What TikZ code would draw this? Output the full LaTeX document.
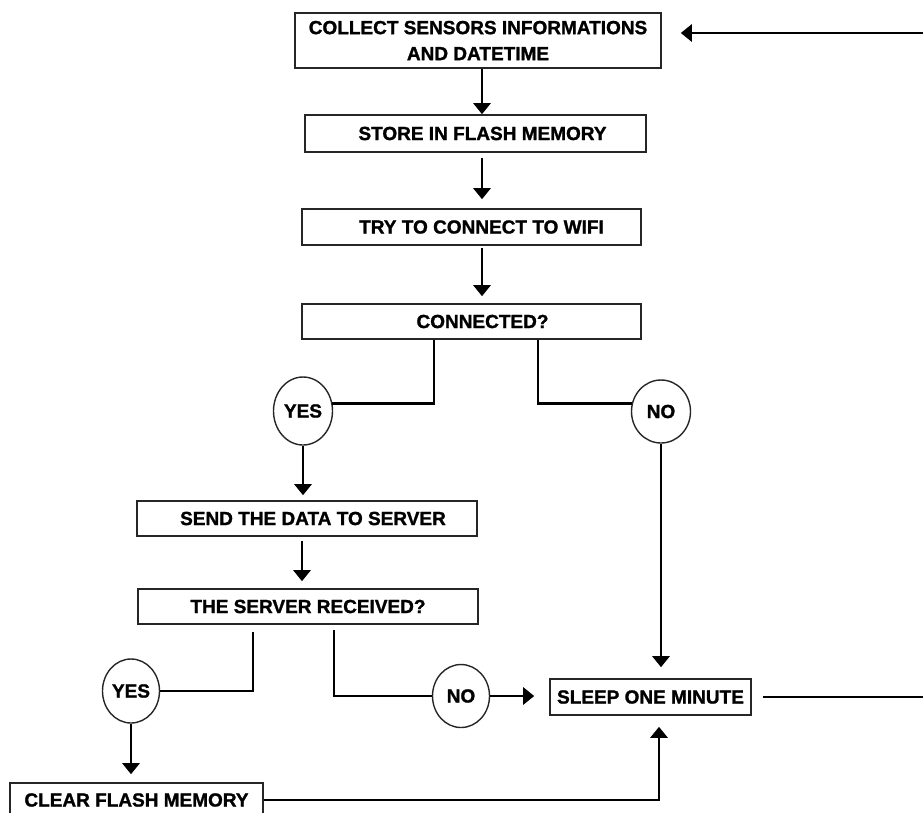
\documentclass[tikz,border=0pt]{standalone}
\usepackage{fontspec}
\setmainfont{Liberation Sans}[BoldFeatures={FakeBold=1.3}]
\usetikzlibrary{arrows.meta,shapes.geometric,calc}
\begin{document}
\begin{tikzpicture}[x=1pt,y=-1pt,
  box/.style={draw=black!85,line width=1.6pt,rectangle,inner sep=0pt,
    font=\fontsize{19}{26}\selectfont\bfseries,text=black,align=center},
  oval/.style={draw=black!85,line width=1.4pt,ellipse,inner sep=0pt,
    font=\fontsize{19}{22}\selectfont\bfseries,text=black},
  conn/.style={line width=2.8pt,draw=black},
  arr/.style={conn,-{Triangle[width=17pt,length=11pt]}},
]
\useasboundingbox (0,0) rectangle (923,812);
% boxes
\node[box,minimum width=366pt,minimum height=55pt] (collect) at (478,40.5)
  {COLLECT SENSORS INFORMATIONS\\AND DATETIME};
\node[box,minimum width=341pt,minimum height=37pt] (store) at (475.5,133.5)
  {\hspace*{14pt}STORE IN FLASH MEMORY};
\node[box,minimum width=339pt,minimum height=36pt] (wifi) at (471.5,227)
  {\hspace*{20pt}TRY TO CONNECT TO WIFI};
\node[box,minimum width=339pt,minimum height=35pt] (conn) at (471.5,321.5)
  {\hspace*{22pt}CONNECTED?};
\node[box,minimum width=340pt,minimum height=35pt] (send) at (307,518.5)
  {\hspace*{12pt}SEND THE DATA TO SERVER};
\node[box,minimum width=340pt,minimum height=35pt] (server) at (308,606.5)
  {THE SERVER RECEIVED?};
\node[box,minimum width=201pt,minimum height=36pt] (sleep) at (650.5,697)
  {SLEEP ONE MINUTE};
\node[box,minimum width=253pt,minimum height=34pt] (clear) at (136.5,800)
  {CLEAR FLASH MEMORY};
% ovals
\node[oval,minimum width=59pt,minimum height=68pt] (yes1) at (303,411) {YES};
\node[oval,minimum width=59pt,minimum height=63pt] (no1) at (661,411.5) {NO};
\node[oval,minimum width=57pt,minimum height=64pt] (yes2) at (131,691) {YES};
\node[oval,minimum width=57pt,minimum height=63pt] (no2) at (461,696) {NO};
% connectors
\draw[arr] (collect.south -| 482,0) -- (store.north -| 482,0);
\draw[arr,shorten <=5pt,shorten >=9pt] (store.south -| 482,0) -- (wifi.north -| 482,0);
\draw[arr,shorten <=2pt,shorten >=7pt] (wifi.south -| 482,0) -- (conn.north -| 482,0);
\draw[conn] (conn.south -| 434,0) |- (yes1.15);
\draw[conn] (conn.south -| 538,0) |- (no1.165);
\draw[arr,shorten >=5pt] (yes1.south) -- (send.north -| yes1.south);
\draw[arr,shorten <=4pt,shorten >=7pt] (send.south -| 302,0) -- (server.north -| 302,0);
\draw[conn,shorten <=7pt] (server.south -| 253,0) |- (yes2.east);
\draw[conn,shorten <=5pt] (server.south -| 334,0) |- (no2.west);
\draw[arr,shorten >=15pt] (no2.east) -- (sleep.west |- no2.east);
\draw[arr,shorten >=11pt] (no1.south) -- (sleep.north -| no1.south);
\draw[arr,shorten >=8pt] (yes2.south) -- (clear.north -| yes2.south);
\draw[arr,shorten >=11pt] (clear.east) -| (sleep.south -| 659,0);
\draw[arr,shorten <=11pt,shorten >=19pt] (sleep.east) -- (960,697) |- ($(collect.east)+(0,-7.5)$);
\end{tikzpicture}
\end{document}
